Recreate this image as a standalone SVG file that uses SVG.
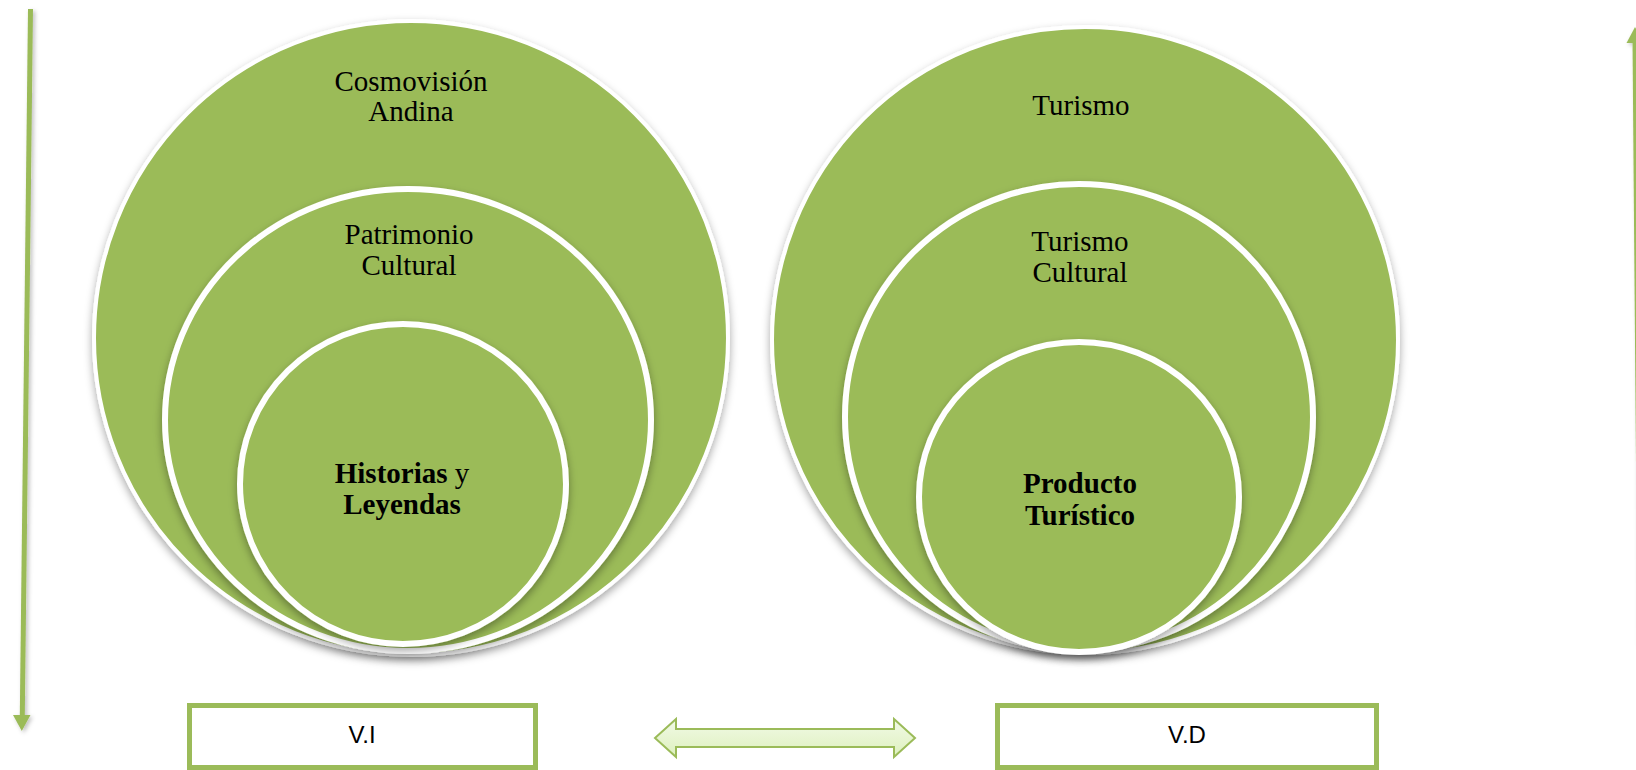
<svg xmlns="http://www.w3.org/2000/svg" width="1636" height="770" viewBox="0 0 1636 770">
  <defs>
    <filter id="shadow" x="-10%" y="-10%" width="120%" height="125%">
      <feDropShadow dx="0" dy="4" stdDeviation="4" flood-color="#000" flood-opacity="0.35"/>
    </filter>
    <filter id="lshadow" x="-200%" y="-5%" width="500%" height="110%">
      <feDropShadow dx="2" dy="2" stdDeviation="2" flood-color="#000" flood-opacity="0.25"/>
    </filter>
    <linearGradient id="pale" x1="0" y1="0" x2="0" y2="1">
      <stop offset="0" stop-color="#F2FAE6"/>
      <stop offset="1" stop-color="#DDF0BE"/>
    </linearGradient>
    <style>
      .ring { fill: #9BBB59; stroke: #FFFFFF; filter: url(#shadow); }
      .outer { stroke-width: 4; }
      .inner { stroke-width: 6; }
      .lbl { font-family: "Liberation Serif", "Times New Roman", serif; font-size: 29px; fill: #000; text-anchor: middle; }
      .b { font-weight: bold; }
      .box { fill: #FFFFFF; stroke: #9BBB59; stroke-width: 5; }
      .boxtxt { font-family: "Liberation Sans", Arial, sans-serif; font-size: 24px; fill: #000; text-anchor: middle; }
      .conn { stroke: #9BBB59; stroke-width: 5; fill: none; }
      .head { fill: #9BBB59; }
    </style>
  </defs>

  <g id="connectors">
    <g id="arrow-left" filter="url(#lshadow)">
      <line class="conn" x1="30.5" y1="9" x2="22.3" y2="716"/>
      <polygon class="head" points="13,715 30.5,715 21.8,731"/>
    </g>
    <g id="arrow-right" filter="url(#lshadow)">
      <line class="conn" x1="1635" y1="40" x2="1640" y2="645"/>
      <polygon class="head" points="1626.5,43 1643.5,43 1635,27"/>
    </g>
    <g id="arrow-double">
      <path d="M655,738 L676,719 L676,729 L894,729 L894,719 L915,738 L894,757 L894,747 L676,747 L676,757 Z" fill="url(#pale)" stroke="#9BBB59" stroke-width="2" stroke-linejoin="miter"/>
    </g>
  </g>

  <g id="vi-cosmovision">
    <circle class="ring outer" cx="411" cy="338" r="317"/>
    <text class="lbl" x="411" y="91">Cosmovisión</text>
    <text class="lbl" x="411" y="121">Andina</text>
  </g>
  <g id="vi-patrimonio">
    <ellipse class="ring inner" cx="408" cy="420" rx="243" ry="231"/>
    <text class="lbl" x="409" y="244">Patrimonio</text>
    <text class="lbl" x="409" y="275">Cultural</text>
  </g>
  <g id="vi-historias">
    <ellipse class="ring inner" cx="403" cy="484" rx="163" ry="160"/>
    <text class="lbl" x="402" y="483"><tspan class="b">Historias</tspan> y</text>
    <text class="lbl b" x="402" y="514">Leyendas</text>
  </g>

  <g id="vd-turismo">
    <circle class="ring outer" cx="1085" cy="340" r="313"/>
    <text class="lbl" x="1081" y="115">Turismo</text>
  </g>
  <g id="vd-turismo-cultural">
    <ellipse class="ring inner" cx="1079" cy="417" rx="234" ry="233"/>
    <text class="lbl" x="1080" y="251">Turismo</text>
    <text class="lbl" x="1080" y="282">Cultural</text>
  </g>
  <g id="vd-producto">
    <ellipse class="ring inner" cx="1079" cy="497" rx="160" ry="155"/>
    <text class="lbl b" x="1080" y="493">Producto</text>
    <text class="lbl b" x="1080" y="525">Turístico</text>
  </g>

  <g id="box-vi">
    <rect class="box" x="189.5" y="705.5" width="346" height="62"/>
    <text class="boxtxt" x="362" y="743">V.I</text>
  </g>
  <g id="box-vd">
    <rect class="box" x="997.5" y="705.5" width="379" height="62"/>
    <text class="boxtxt" x="1187" y="743">V.D</text>
  </g>
</svg>
